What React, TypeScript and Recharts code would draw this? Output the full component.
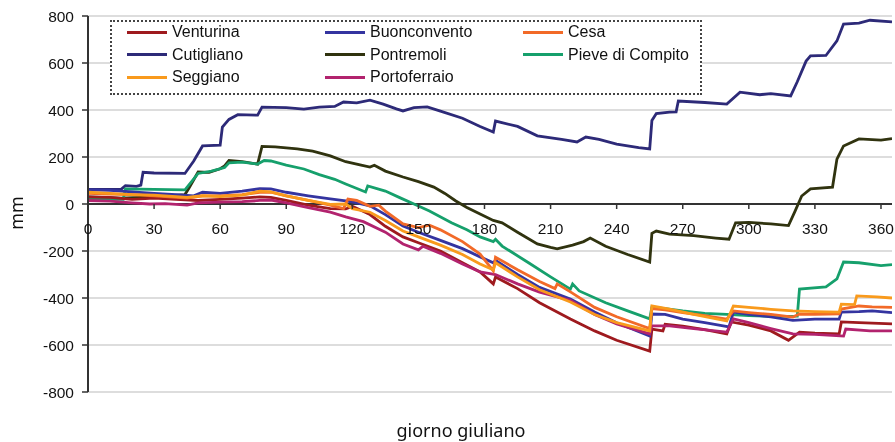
import React from "react";
import {
  LineChart,
  Line,
  XAxis,
  YAxis,
  CartesianGrid,
  ReferenceLine,
  ReferenceDot,
  Legend,
} from "recharts";

// [giorno giuliano, mm]
const venturina: [number, number][] = [
  [0, 30], [10, 28], [20, 20], [30, 25], [40, 20], [50, 15], [60, 20], [70, 25], [78, 30], [83, 28],
  [90, 15], [100, -5], [110, -20], [117, -21], [120, -10], [128, -45], [135, -95], [143, -140],
  [150, -165], [160, -200], [170, -250], [178, -289], [184, -340], [185, -311], [195, -360],
  [205, -420], [219, -489], [230, -540], [240, -580], [255, -626], [256, -532], [261, -540],
  [262, -512], [270, -520], [280, -535], [290, -553], [292, -502], [300, -515], [310, -540],
  [318, -580], [323, -545], [330, -550], [341, -553], [342, -502], [350, -505], [365, -510],
];

const buonconvento: [number, number][] = [
  [0, 60], [10, 58], [20, 52], [30, 45], [40, 40], [48, 35], [52, 50], [60, 45], [70, 55], [78, 65],
  [83, 64], [90, 50], [100, 35], [110, 22], [117, 13], [122, 5], [128, -8], [135, -45], [143, -94],
  [150, -120], [160, -155], [170, -190], [178, -225], [184, -250], [185, -240], [195, -300],
  [205, -355], [219, -404], [230, -460], [240, -505], [255, -562], [256, -468], [262, -470],
  [270, -490], [280, -505], [291, -523], [293, -460], [300, -470], [310, -480], [320, -495],
  [330, -490], [341, -490], [342, -460], [350, -458], [356, -455], [365, -462],
];

const cesa: [number, number][] = [
  [0, 45], [10, 42], [20, 40], [30, 35], [45, 25], [52, 35], [60, 35], [70, 40], [78, 50], [83, 50],
  [90, 35], [100, 15], [110, -5], [116, -20], [118, 21], [122, 15], [128, -10], [132, -5], [135, -30],
  [143, -85], [150, -100], [155, -90], [160, -110], [170, -160], [178, -213], [184, -285],
  [185, -226], [195, -280], [205, -330], [212, -360], [213, -340], [219, -374], [230, -440],
  [240, -480], [255, -530], [256, -445], [262, -450], [270, -462], [280, -475], [290, -490],
  [293, -455], [300, -462], [310, -470], [320, -481], [323, -468], [330, -470], [341, -468],
  [342, -447], [350, -434], [356, -438], [365, -440],
];

const cutigliano: [number, number][] = [
  [0, 62], [15, 62], [17, 78], [22, 75], [24, 80], [25, 135], [30, 132], [44, 130], [48, 183],
  [52, 247], [60, 250], [61, 327], [64, 360], [68, 380], [77, 378], [79, 412], [90, 410], [98, 404],
  [105, 412], [112, 415], [116, 434], [122, 430], [128, 442], [134, 425], [140, 405], [143, 396],
  [148, 410], [154, 413], [160, 395], [170, 365], [178, 330], [184, 306], [185, 353], [195, 330],
  [204, 290], [215, 275], [222, 264], [226, 285], [232, 275], [240, 255], [250, 240], [255, 234],
  [256, 355], [258, 385], [264, 391], [267, 392], [268, 438], [280, 432], [290, 425], [296, 476],
  [305, 465], [310, 470], [319, 460], [322, 520], [326, 608], [328, 630], [335, 632], [340, 694],
  [343, 766], [350, 770], [355, 782], [365, 775],
];

const pontremoli: [number, number][] = [
  [0, 30], [15, 25], [30, 30], [44, 40], [46, 70], [50, 136], [55, 135], [60, 150], [62, 162],
  [64, 185], [70, 180], [77, 170], [79, 245], [85, 243], [95, 235], [102, 225], [110, 205],
  [117, 180], [124, 165], [128, 157], [130, 165], [135, 140], [143, 115], [150, 95], [157, 72],
  [162, 45], [167, 13], [172, -15], [178, -43], [184, -70], [188, -80], [195, -120], [204, -170],
  [210, -185], [213, -191], [220, -175], [225, -160], [228, -145], [235, -180], [245, -215],
  [255, -247], [256, -125], [258, -115], [264, -128], [275, -135], [285, -145], [291, -150],
  [294, -80], [300, -78], [310, -85], [318, -92], [321, -30], [324, 34], [328, 64], [338, 72],
  [340, 191], [343, 247], [350, 277], [360, 272], [365, 278],
];

const pieveDiCompito: [number, number][] = [
  [0, 20], [16, 20], [17, 64], [30, 62], [44, 60], [50, 130], [56, 140], [62, 155], [64, 175],
  [70, 178], [77, 170], [80, 185], [83, 183], [90, 165], [98, 149], [105, 125], [112, 105],
  [117, 85], [126, 51], [127, 77], [135, 55], [142, 25], [148, 0], [155, -30], [165, -80],
  [172, -110], [178, -140], [184, -160], [185, -150], [188, -179], [200, -250], [210, -310],
  [219, -362], [220, -340], [223, -370], [235, -420], [245, -455], [255, -489], [256, -438],
  [262, -445], [270, -455], [280, -465], [290, -470], [300, -475], [310, -478], [322, -477],
  [323, -362], [335, -353], [340, -319], [343, -247], [350, -250], [360, -262], [365, -258],
];

const seggiano: [number, number][] = [
  [0, 50], [10, 45], [20, 40], [30, 38], [45, 28], [52, 35], [60, 32], [70, 38], [78, 55], [83, 52],
  [90, 35], [100, 15], [110, -2], [117, 0], [120, -20], [128, -35], [135, -70], [143, -115],
  [150, -140], [160, -175], [170, -215], [178, -255], [184, -280], [185, -250], [195, -310],
  [205, -365], [219, -417], [230, -470], [240, -505], [255, -540], [256, -434], [264, -447],
  [275, -470], [290, -498], [293, -434], [300, -440], [310, -448], [320, -455], [330, -458],
  [341, -460], [342, -426], [348, -428], [349, -391], [358, -395], [365, -400],
];

const portoferraio: [number, number][] = [
  [0, 15], [10, 12], [20, 5], [28, 0], [35, 2], [45, -5], [50, 5], [60, 8], [70, 10], [78, 15],
  [83, 17], [90, 5], [100, -15], [110, -35], [117, -55], [125, -75], [135, -120], [143, -170],
  [150, -195], [152, -180], [160, -210], [170, -255], [178, -289], [185, -300], [195, -340],
  [205, -375], [219, -410], [230, -470], [240, -510], [255, -553], [256, -519], [264, -519],
  [275, -530], [290, -545], [293, -489], [300, -505], [310, -530], [320, -553], [330, -555],
  [343, -562], [344, -532], [355, -540], [365, -540],
];

const xTicks = [0, 30, 60, 90, 120, 150, 180, 210, 240, 270, 300, 330, 360];
const yTicks = [-800, -600, -400, -200, 0, 200, 400, 600, 800];

const series = [
  { name: "Venturina", color: "#9E1A1E", data: venturina },
  { name: "Buonconvento", color: "#3434A0", data: buonconvento },
  { name: "Cesa", color: "#F26A28", data: cesa },
  { name: "Cutigliano", color: "#2D2A78", data: cutigliano },
  { name: "Pontremoli", color: "#30330F", data: pontremoli },
  { name: "Pieve di Compito", color: "#16A06C", data: pieveDiCompito },
  { name: "Seggiano", color: "#F99A1C", data: seggiano },
  { name: "Portoferraio", color: "#B2236E", data: portoferraio },
];

const drawOrder = [
  "Cutigliano",
  "Pontremoli",
  "Pieve di Compito",
  "Venturina",
  "Buonconvento",
  "Portoferraio",
  "Cesa",
  "Seggiano",
];

const FONT = "'Liberation Sans', Arial, sans-serif";
const AXIS = "#333333";

const renderLegend = () => (
  <div
    style={{
      width: 592,
      height: 75,
      boxSizing: "border-box",
      border: "2px dotted #444",
      position: "relative",
      fontFamily: FONT,
      fontSize: 16,
      color: "#111",
      background: "#fff",
    }}
  >
    {series.map((s, i) => {
      const col = i % 3;
      const row = Math.floor(i / 3);
      return (
        <div
          key={s.name}
          style={{
            position: "absolute",
            left: 15 + col * 198,
            top: 1 + row * 22.5,
            height: 18,
            lineHeight: "18px",
            display: "flex",
            alignItems: "center",
            whiteSpace: "nowrap",
          }}
        >
          <span style={{ display: "inline-block", width: 40, height: 3, background: s.color }} />
          <span style={{ marginLeft: 5 }}>{s.name}</span>
        </div>
      );
    })}
  </div>
);

const makeTick = (t: number) => (p: any) => {
  const cx = p.cx;
  const cy = p.cy;
  return (
    <g>
      <line x1={cx} y1={cy} x2={cx} y2={cy + 5} stroke={AXIS} strokeWidth={1.5} />
      <text
        x={cx}
        y={cy + 24}
        textAnchor="middle"
        dominantBaseline="central"
        fontFamily={FONT}
        fontSize={15.5}
        fill="#111"
      >
        {t}
      </text>
    </g>
  );
};

export default function App() {
  const byName: Record<string, (typeof series)[number]> = {};
  series.forEach((s) => (byName[s.name] = s));
  return (
    <div style={{ position: "fixed", left: 0, top: 0, width: 895, height: 442 }}>
      <LineChart width={895} height={442} margin={{ top: 16, right: 3, bottom: 0, left: 0 }}>
        <CartesianGrid horizontal vertical={false} stroke="#d2d2d2" strokeWidth={1.5} />
        <XAxis
          type="number"
          dataKey="d"
          domain={[0, 365]}
          ticks={xTicks}
          allowDataOverflow
          height={50}
          axisLine={false}
          tickLine={false}
          tick={false}
          label={{
            content: (props: any) => {
              const vb = props.viewBox || {};
              return (
                <text
                  x={vb.x + vb.width / 2 - 29}
                  y={vb.y + 38}
                  textAnchor="middle"
                  dominantBaseline="central"
                  fontFamily="'Noto Sans', 'Open Sans', sans-serif"
                  fontSize={18}
                  fill="#111"
                >
                  giorno giuliano
                </text>
              );
            },
          }}
        />
        <YAxis
          type="number"
          domain={[-800, 800]}
          ticks={yTicks}
          width={88}
          axisLine={{ stroke: AXIS, strokeWidth: 2 }}
          tickLine={{ stroke: AXIS, strokeWidth: 1.5 }}
          tickSize={6}
          tickMargin={8}
          tick={{ fontFamily: FONT, fontSize: 15.5, fill: "#111" }}
          label={{
            content: (props: any) => {
              const vb = props.viewBox || {};
              const cx = 15.5;
              const cy = vb.y + vb.height / 2 + 9;
              return (
                <text
                  x={cx}
                  y={cy}
                  transform={`rotate(-90 ${cx} ${cy})`}
                  textAnchor="middle"
                  dominantBaseline="central"
                  fontFamily="'Noto Sans', 'Open Sans', sans-serif"
                  fontSize={18}
                  fill="#111"
                >
                  mm
                </text>
              );
            },
          }}
        />
        <ReferenceLine y={0} stroke={AXIS} strokeWidth={2} />
        <Legend
          layout="vertical"
          align="center"
          verticalAlign="middle"
          content={renderLegend}
          wrapperStyle={{ position: "absolute", left: 110, top: 20, width: 592, height: 75 }}
        />
        {drawOrder.map((n) => {
          const s = byName[n];
          return (
            <Line
              key={s.name}
              name={s.name}
              data={s.data.map(([d, v]) => ({ d, v }))}
              dataKey="v"
              type="linear"
              stroke={s.color}
              strokeWidth={2.8}
              dot={false}
              activeDot={false}
              isAnimationActive={false}
            />
          );
        })}
        {xTicks.map((t) => (
          <ReferenceDot key={t} x={t} y={0} r={0} ifOverflow="visible" shape={makeTick(t)} />
        ))}
      </LineChart>
    </div>
  );
}
